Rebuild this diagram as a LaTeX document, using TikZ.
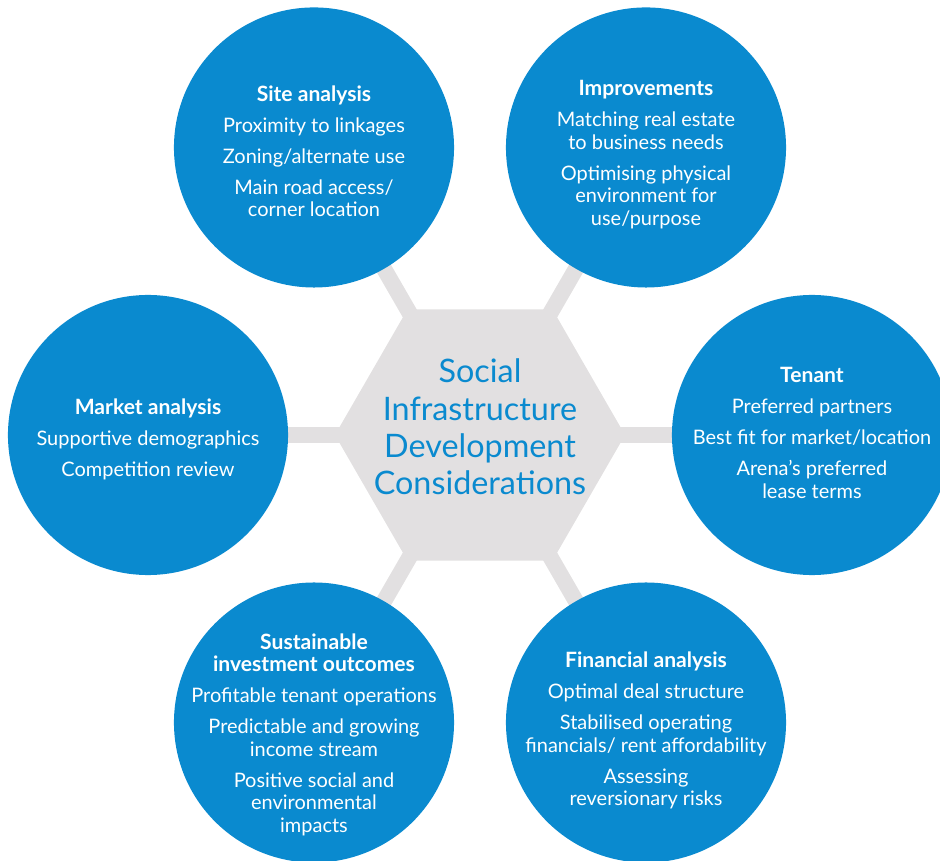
\documentclass[tikz,border=0pt]{standalone}
\usepackage{fontspec}
\setmainfont{Lato}
\usepackage{tikz}
\usetikzlibrary{shapes.geometric,backgrounds}
\usepackage{xcolor}

\definecolor{ringblue}{HTML}{0A8ACF}
\definecolor{hexgray}{HTML}{E2E0E1}

\newcommand{\topichead}[1]{{\fontsize{15}{16}\selectfont\bfseries #1}}

\begin{document}
\begin{tikzpicture}[
    x=0.025cm, y=0.025cm,
    hub/.style={regular polygon, regular polygon sides=6, fill=hexgray, minimum size=7.25cm, inner sep=0pt},
    hubtext/.style={text=ringblue, align=center, font=\fontsize{23}{26.5}\selectfont},
    topic/.style={circle, fill=ringblue, minimum size=7cm, inner sep=0pt},
    topictext/.style={text=white, align=center, font=\fontsize{14.2}{16}\selectfont, yshift=-0.1cm},
    spoke/.style={draw=hexgray, line width=0.4cm}
]
\useasboundingbox (-480,-426) rectangle (460,435);

% Central hexagon
\node[hub] (hub) at (0,0) {};
\node[hubtext, yshift=0.2cm] (title) at (hub) {Social\\Infrastructure\\Development\\Considerations};

% Surrounding topics
\node[topic, label={[topictext]center:{\topichead{Site analysis}\\[6pt]Proximity to linkages\\[6pt]Zoning/alternate use\\[6pt]Main road access/\\corner location}}] (site) at (120:332) {};
\node[topic, label={[topictext, yshift=-0.08cm]center:{\topichead{Improvements}\\[6pt]Matching real estate\\to business needs\\[6pt]Optimising physical\\environment for\\use/purpose}}] (improve) at (60:332) {};
\node[topic, label={[topictext, yshift=0.15cm]center:{\topichead{Tenant}\\[6pt]Preferred partners\\[6pt]Best fit for market/location\\[6pt]Arena’s preferred\\lease terms}}] (tenant) at (0:332) {};
\node[topic, label={[topictext, yshift=-0.1cm]center:{\topichead{Financial analysis}\\[6pt]Optimal deal structure\\[6pt]Stabilised operating\\financials/ rent affordability\\[6pt]Assessing\\reversionary risks}}] (finance) at (-60:332) {};
\node[topic, label={[topictext, yshift=-0.2cm]center:{\topichead{Sustainable}\\\topichead{investment outcomes}\\[6pt]Profitable tenant operations\\[6pt]Predictable and growing\\income stream\\[6pt]Positive social and\\environmental\\impacts}}] (sustain) at (-120:332) {};
\node[topic, label={[topictext]center:{\topichead{Market analysis}\\[6pt]Supportive demographics\\[6pt]Competition review}}] (market) at (180:332) {};

% Spokes behind everything
\begin{scope}[on background layer]
\foreach \t in {site,improve,tenant,finance,sustain,market}
    \draw[spoke] (hub.center) -- (\t.center);
\end{scope}

\end{tikzpicture}
\end{document}
